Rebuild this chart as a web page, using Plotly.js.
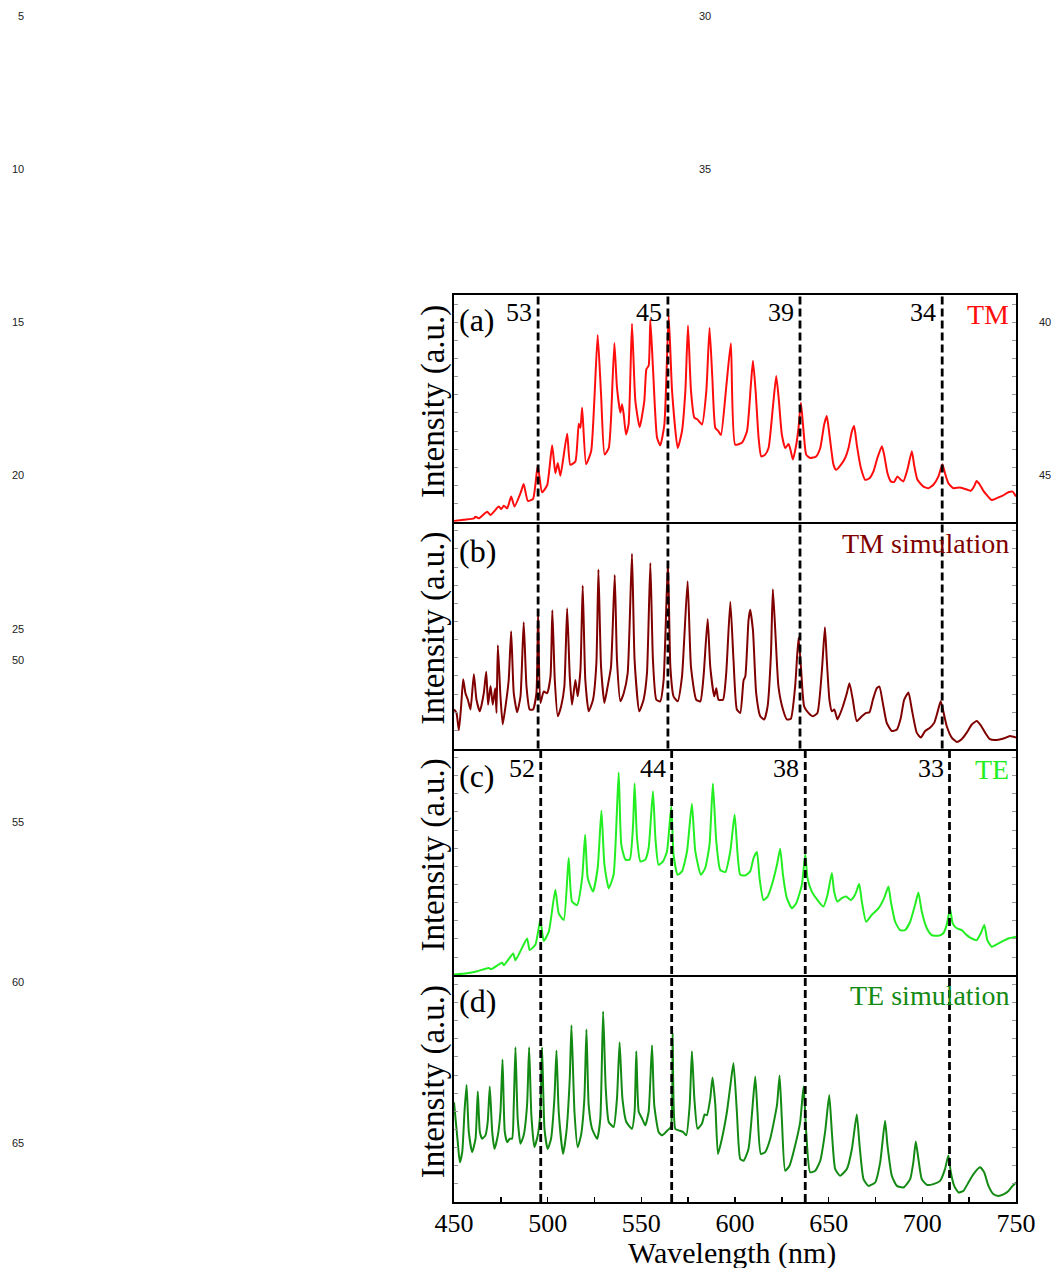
<!DOCTYPE html>
<html><head><meta charset="utf-8">
<script src="https://cdn.plot.ly/plotly-3.0.1.min.js"></script>
<style>html,body{margin:0;padding:0;background:#fff}#chart{width:1056px;height:1268px}</style>
</head><body><div id="chart"></div>
<script>
// ---- data (wavelength in nm, intensity in a.u., 0-100 per panel) ----
const wlA = [450.0,455.2,460.6,461.5,463.2,467.7,469.5,473.9,475.2,476.6,478.4,480.5,482.3,485.5,487.2,489.4,492.2,494.7,497.0,499.7,502.4,504.1,505.4,506.8,510.4,512.1,514.8,516.6,517.5,518.4,520.5,523.2,524.9,526.7,528.5,530.4,532.6,533.8,535.6,537.0,538.8,539.7,540.6,541.8,543.2,545.0,546.8,549.1,551.6,552.7,553.9,554.8,556.2,558.4,560.1,562.3,564.6,566.4,569.4,571.7,573.5,574.9,576.5,578.3,580.0,582.4,584.7,586.4,587.9,589.5,591.2,592.5,595.3,597.8,
600.1,603.7,606.4,608.5,609.6,611.0,612.6,614.0,616.1,617.9,620.2,622.0,623.3,625.0,626.8,628.6,629.8,630.9,632.7,633.9,635.2,636.6,638.0,640.1,643.3,645.5,647.6,649.0,650.4,652.6,654.0,656.5,658.8,660.6,662.4,663.6,665.0,667.2,669.5,671.8,673.9,676.0,678.4,679.6,681.4,683.2,684.9,686.7,688.5,689.9,692.0,694.4,695.6,697.4,700.6,703.2,705.9,708.6,710.7,712.1,713.9,716.6,720.1,724.1,725.8,727.6,729.0,730.5,732.6,734.7,737.0,739.7,742.9,745.9,748.2,750.0];
const intA = [0.3,0.9,1.5,2.2,1.5,4.4,3.0,6.7,5.6,7.1,5.9,11.1,6.7,12.6,16.6,9.2,10.1,24.7,13.0,16.0,33.7,21.4,25.9,20.3,38.8,25.1,26.6,43.2,41.4,50.3,25.4,31.1,53.3,82.4,56.2,29.6,32.5,45.1,78.8,59.2,48.1,51.8,47.3,38.5,42.9,87.3,53.3,41.7,53.3,67.3,68.8,89.1,68.0,37.0,33.7,42.9,91.0,57.7,32.5,39.9,57.7,86.5,57.7,45.9,45.1,42.9,57.7,85.5,63.6,41.4,39.9,38.2,59.2,78.7,
34.0,34.8,39.9,60.7,71.0,57.7,37.0,28.8,29.6,32.5,50.3,64.3,54.7,38.5,32.5,34.3,31.1,27.4,34.0,41.4,52.5,39.9,29.6,28.1,28.8,32.5,42.9,46.6,38.5,25.1,22.9,25.1,28.1,32.5,39.9,42.2,34.0,23.7,18.5,19.2,22.2,28.1,33.3,29.6,21.4,17.8,17.5,20.0,18.5,17.8,22.9,31.1,25.1,18.5,15.5,14.8,16.3,20.0,25.4,21.4,17.0,14.8,15.1,14.1,13.6,15.5,18.0,16.6,13.6,11.5,9.6,10.4,11.5,13.0,13.3,11.1];

const wlB = [450.0,451.3,452.6,453.8,454.9,456.1,457.4,458.8,460.6,462.0,463.8,465.9,467.2,468.2,469.5,470.7,472.0,472.7,473.4,474.8,476.0,477.5,479.2,480.5,481.9,483.7,485.5,487.2,488.7,490.4,492.2,494.0,494.9,496.1,497.9,499.7,501.5,502.5,503.8,505.4,507.2,508.9,510.4,511.8,513.0,514.8,516.0,517.5,518.7,520.1,521.9,524.2,526.0,527.1,528.5,530.3,532.0,533.8,535.8,537.0,538.8,540.6,542.7,545.0,546.4,548.9,551.2,553.0,554.8,556.2,558.0,560.1,561.9,564.2,565.5,567.2,569.4,571.7,574.7,576.5,579.3,581.5,583.2,585.4,586.8,588.9,590.0,591.2,593.6,595.3,597.5,599.2,
601.0,602.8,604.6,605.5,607.2,608.1,609.6,611.3,613.5,615.6,617.4,619.2,620.2,621.5,623.2,625.6,627.7,629.8,632.1,633.9,635.2,636.9,639.2,641.6,644.0,646.4,648.0,649.0,650.4,651.7,653.0,654.7,657.0,659.7,661.1,662.9,665.0,667.7,670.0,671.8,673.6,675.7,677.1,678.9,681.0,683.7,686.4,688.5,690.3,692.6,694.4,697.0,699.2,701.5,704.1,706.3,708.0,709.8,711.2,713.0,715.7,718.4,721.0,723.7,726.4,729.0,731.2,733.5,736.1,739.7,743.3,746.8,750.0];
const intB = [17.2,15.7,8.1,18.6,30.5,24.4,21.5,17.2,32.8,21.5,16.4,24.4,33.9,19.3,27.6,19.3,26.6,15.7,45.5,23.0,10.6,18.6,30.2,51.7,24.4,16.0,23.0,55.7,27.3,17.2,17.2,24.4,60.0,20.1,25.1,24.4,31.7,61.0,30.2,14.2,18.6,27.3,61.8,31.7,19.3,30.2,23.0,34.6,71.9,30.2,16.4,21.5,37.5,78.9,36.0,20.1,27.3,36.0,76.5,39.0,20.8,24.4,33.1,85.9,39.0,16.4,21.5,33.1,81.8,39.0,21.5,20.8,30.2,82.6,36.0,23.0,20.8,31.7,73.8,36.0,21.5,20.8,31.7,57.1,36.0,23.0,26.6,21.5,21.5,33.1,64.7,39.0,
17.2,15.7,30.2,31.7,56.4,61.2,52.0,24.4,14.2,12.8,18.6,41.9,70.2,52.0,27.3,17.2,12.8,13.1,27.3,48.8,36.0,18.6,15.7,14.2,15.7,34.6,53.5,39.0,21.5,16.4,17.2,12.8,17.2,24.4,28.8,21.5,12.1,14.2,15.7,16.0,21.5,26.6,27.3,20.1,11.3,7.7,8.4,13.5,21.5,24.7,17.2,7.0,4.8,7.7,9.2,11.3,15.7,20.8,16.4,9.9,4.8,2.9,4.1,7.0,10.6,12.1,10.2,7.0,4.1,3.8,4.4,5.5,4.8];

const wlC = [450.0,457.0,462.4,468.6,469.8,475.7,476.6,481.6,482.8,489.0,490.4,493.5,496.1,497.9,500.6,504.1,505.9,508.6,511.2,513.0,515.7,518.4,520.0,521.4,524.2,526.7,528.7,530.3,532.6,535.2,537.9,539.3,541.5,543.8,545.6,546.4,547.7,549.5,552.1,553.9,556.2,557.5,559.2,561.6,563.7,566.0,567.2,569.4,571.7,574.4,577.0,578.8,581.8,584.1,586.4,588.2,590.0,592.1,594.8,597.5,599.8,
601.4,602.8,605.5,608.1,609.9,611.7,613.1,615.2,617.4,619.7,622.4,624.1,625.6,627.7,630.4,632.7,635.7,637.5,638.7,641.0,644.0,647.2,649.4,651.7,652.9,654.7,657.0,659.3,661.8,664.1,666.3,667.7,670.0,673.0,676.6,679.6,681.9,683.2,685.5,688.1,690.8,693.5,696.1,697.9,699.7,702.4,705.0,708.6,711.2,713.0,714.8,716.2,718.4,721.0,723.7,726.4,729.0,731.2,733.1,734.7,737.0,739.7,742.4,745.9,750.0];
const intC = [0.3,0.9,1.8,3.2,2.7,5.5,4.4,9.6,6.6,16.2,11.1,13.6,24.4,15.1,19.2,37.7,27.3,24.4,51.7,32.5,31.0,42.8,62.0,42.8,36.9,47.3,72.7,48.7,38.4,44.3,89.4,57.6,51.0,51.0,66.5,84.6,60.6,50.2,51.0,56.1,81.2,60.6,48.7,50.2,54.7,74.6,53.2,44.3,45.8,54.7,75.6,54.7,44.3,47.3,57.6,84.6,59.1,46.5,45.5,54.7,70.9,
53.2,44.3,44.0,45.8,51.7,54.4,42.8,33.2,34.7,39.9,48.7,55.8,44.3,34.0,29.5,31.8,39.9,53.2,42.8,36.9,33.2,30.3,35.5,45.1,36.9,32.5,34.0,34.7,33.2,35.5,40.2,32.5,23.6,26.6,29.5,34.0,39.1,32.5,23.6,19.9,19.9,23.6,31.0,36.5,28.1,20.7,17.7,17.4,18.5,22.2,29.2,22.9,20.7,19.9,17.7,16.2,15.5,18.5,22.2,15.5,12.6,13.6,14.8,16.2,17.0];

const wlD = [450.0,452.0,453.1,454.4,455.6,456.7,457.9,459.7,461.5,462.7,463.8,465.0,466.8,468.0,469.1,470.4,471.6,473.4,474.8,475.9,477.1,478.4,479.8,481.0,481.9,482.8,484.0,485.5,487.2,489.0,490.1,491.3,492.9,494.7,496.1,497.0,498.3,500.0,501.8,503.6,504.7,505.9,508.2,510.0,511.8,512.7,514.3,516.0,517.8,519.6,520.7,521.9,523.7,526.4,528.1,529.6,531.0,532.6,535.2,537.0,538.4,539.9,542.0,545.0,546.4,547.3,548.6,550.4,552.1,553.9,555.7,556.9,559.2,561.0,564.0,565.8,566.7,568.1,569.9,572.2,574.0,575.8,577.0,578.3,580.0,582.4,583.8,585.0,586.8,588.0,589.5,590.9,593.0,595.7,597.8,599.2,
601.0,602.8,604.6,607.2,609.0,610.8,612.0,613.8,616.1,618.8,622.4,623.8,625.0,626.8,629.1,632.1,634.8,636.6,638.0,640.1,642.8,645.5,648.1,650.3,651.7,653.5,656.1,659.7,662.4,665.0,666.5,668.6,671.2,674.8,677.5,680.1,681.4,683.7,686.4,689.9,693.5,695.2,696.5,697.9,699.7,702.4,705.9,709.5,712.1,713.9,715.2,717.0,719.3,721.9,724.6,727.3,730.8,733.0,735.3,738.0,740.6,743.3,746.0,748.2,750.0];
const intD = [44.0,26.4,17.5,22.0,39.8,51.6,30.9,22.0,27.9,48.7,30.9,27.9,29.4,35.3,50.9,30.9,23.4,29.4,39.8,62.8,30.9,26.4,27.9,27.9,42.7,68.2,36.8,25.7,29.4,42.7,68.2,38.3,24.2,29.4,39.8,68.2,32.3,23.4,27.9,45.7,66.8,39.8,21.2,30.9,54.6,78.0,39.8,24.2,29.4,45.7,76.1,42.7,32.3,27.9,36.8,84.0,50.1,35.3,33.1,45.7,70.5,45.7,35.3,32.3,39.8,66.5,39.8,36.8,33.8,39.8,69.1,42.7,30.9,29.4,31.6,33.1,74.6,32.3,31.6,30.9,29.4,42.7,66.5,45.7,32.3,34.6,38.6,38.3,45.7,54.9,42.7,21.2,27.9,39.8,53.1,61.3,
39.8,19.0,18.2,23.4,38.3,55.3,39.8,21.2,22.0,27.9,42.7,55.8,36.8,13.8,16.0,24.9,35.3,50.9,30.9,13.1,13.8,18.2,30.9,47.2,30.9,14.5,11.6,14.5,23.4,38.6,24.9,10.1,7.1,8.6,17.5,35.8,24.9,11.6,7.1,6.4,10.1,17.5,26.7,19.0,10.1,7.6,7.9,9.3,14.5,20.5,13.1,7.1,4.2,4.9,8.6,12.3,15.3,13.1,7.1,3.4,2.7,3.4,4.9,7.1,8.6];

// mode markers (dashed lines) and mode numbers
const modeWlTM = [494.9, 564.2, 634.7, 710.6];
const modeNumTM = ['53', '45', '39', '34'];
const modeWlTE = [496.3, 566.2, 637.5, 714.5];
const modeNumTE = ['52', '44', '38', '33'];

const panelLetters = ['(a)', '(b)', '(c)', '(d)'];
const panelNames = ['TM', 'TM simulation', 'TE', 'TE simulation'];
const xTickVals = [450, 500, 550, 600, 650, 700, 750];
const yTitle = 'Intensity (a.u.)';
const xTitle = 'Wavelength (nm)';
const lineNumberText = ['5','10','15','20','25','50','55','60','65','30','35','40','45'];

// ---- layout / styling ----
const W = 1056, H = 1268, L = 453.5, R = 40, T = 295, B = 65.5;
const PW = W - L - R, PH = H - T - B;
const serif = 'Liberation Serif, Times New Roman, serif';
const colors = ['#ff0d0d', '#800000', '#22ee22', '#138a13'];
const series = [[wlA, intA], [wlB, intB], [wlC, intC], [wlD, intD]];
const domains = [[0.75, 1], [0.5, 0.75], [0.25, 0.5], [0, 0.25]];
const sfx = i => (i === 0 ? '' : String(i + 1));

const traces = series.map((s, i) => ({
  x: s[0], y: s[1], type: 'scatter', mode: 'lines',
  line: { color: colors[i], width: 2, shape: 'spline', smoothing: 0.5 },
  xaxis: 'x' + sfx(i), yaxis: 'y' + sfx(i),
  hoverinfo: 'skip', showlegend: false
}));

const layout = {
  width: W, height: H,
  margin: { l: L, r: R, t: T, b: B, pad: 0 },
  paper_bgcolor: '#fff', plot_bgcolor: '#fff',
  showlegend: false,
  font: { family: serif, color: '#000' },
  annotations: [], shapes: []
};

for (let i = 0; i < 4; i++) {
  const bottom = i === 3;
  layout['xaxis' + sfx(i)] = {
    domain: [0, 1], range: [450, 750], anchor: 'y' + sfx(i),
    showline: true, linewidth: 2, linecolor: '#000', mirror: i === 0,
    showgrid: false, zeroline: false,
    ticks: bottom ? 'inside' : '', ticklen: 5, tickwidth: 1.5, tickcolor: '#000',
    tickmode: 'array', tickvals: xTickVals, ticktext: xTickVals.map(String),
    showticklabels: bottom, ticklabelstandoff: -3,
    tickfont: { family: serif, size: 26, color: '#000' },
    minor: bottom ? { dtick: 25, ticks: 'inside', ticklen: 5, tickwidth: 1.5, tickcolor: '#000', showgrid: false } : { ticks: '' }
  };
  layout['yaxis' + sfx(i)] = {
    domain: domains[i], range: [0, 100], anchor: 'x' + sfx(i),
    showline: true, linewidth: 2, linecolor: '#000', mirror: 'ticks',
    ticks: 'inside', ticklen: 4, tickwidth: 1, tickcolor: '#9a9a9a',
    tickmode: 'linear', tick0: 0, dtick: 8,
    showticklabels: false, showgrid: false, zeroline: false
  };
}

// panel letters
const letterY = [0.888, 0.87, 0.88, 0.885];
panelLetters.forEach((t, i) => layout.annotations.push({
  text: t, xref: 'x' + sfx(i) + ' domain', yref: 'y' + sfx(i) + ' domain',
  x: 0.006, y: letterY[i], xanchor: 'left', yanchor: 'middle', showarrow: false,
  font: { family: serif, size: 32, color: '#000' }
}));
// panel names
const nameY = [0.912, 0.905, 0.907, 0.912];
panelNames.forEach((t, i) => layout.annotations.push({
  text: t, xref: 'x' + sfx(i) + ' domain', yref: 'y' + sfx(i) + ' domain',
  x: 0.991, y: nameY[i], xanchor: 'right', yanchor: 'middle', showarrow: false,
  font: { family: serif, size: 28, color: colors[i] }
}));
// mode numbers
modeWlTM.forEach((w, k) => layout.annotations.push({
  text: modeNumTM[k], xref: 'x', yref: 'y domain', x: w, y: 0.925,
  xanchor: 'right', yanchor: 'middle', xshift: -4, showarrow: false,
  font: { family: serif, size: 26, color: '#000' }
}));
modeWlTE.forEach((w, k) => layout.annotations.push({
  text: modeNumTE[k], xref: 'x3', yref: 'y3 domain', x: w, y: 0.912,
  xanchor: 'right', yanchor: 'middle', xshift: -4, showarrow: false,
  font: { family: serif, size: 26, color: '#000' }
}));
// y titles
for (let i = 0; i < 4; i++) {
  layout.annotations.push({
    text: yTitle, xref: 'paper', yref: 'y' + sfx(i) + ' domain',
    x: (433 - L) / PW, y: 0.53, xanchor: 'center', yanchor: 'middle',
    textangle: -90, showarrow: false,
    font: { family: serif, size: 33, color: '#000' }
  });
}
// x title
layout.annotations.push({
  text: xTitle, xref: 'paper', yref: 'paper', x: (732 - L) / PW, y: -(1254 - (H - B)) / PH,
  xanchor: 'center', yanchor: 'middle', showarrow: false,
  font: { family: serif, size: 30, color: '#000' }
});
// manuscript line numbers (pixel positions of their right edge / centre)
const lnPos = [[25,16],[25,169],[25,322],[25,475],[25,629],[25,660],[25,822],[25,982],[25,1143],[713,16],[713,169],[1053,322],[1053,475]];
lineNumberText.forEach((t, k) => layout.annotations.push({
  text: t, xref: 'paper', yref: 'paper',
  x: (lnPos[k][0] - L) / PW, y: ((H - B) - lnPos[k][1]) / PH,
  xanchor: 'right', yanchor: 'middle', showarrow: false,
  font: { family: 'Liberation Sans, Arial, sans-serif', size: 11, color: '#222' }
}));

// dashed mode lines
const dashLine = { color: '#000', width: 2.8, dash: '8px,4px' };
modeWlTM.forEach(w => layout.shapes.push({ type: 'line', xref: 'x', yref: 'paper', x0: w, x1: w, y0: 0.5, y1: 1, line: dashLine }));
modeWlTE.forEach(w => layout.shapes.push({ type: 'line', xref: 'x3', yref: 'paper', x0: w, x1: w, y0: 0, y1: 0.5, line: dashLine }));

Plotly.newPlot('chart', traces, layout, { staticPlot: true, displayModeBar: false });
</script>
</body></html>
